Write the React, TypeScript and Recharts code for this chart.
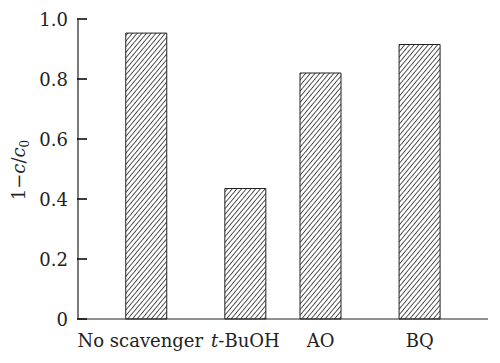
import React from 'react';
import { BarChart, Bar, XAxis, YAxis } from 'recharts';

const categories = ['No scavenger', 't-BuOH', 'AO', 'BQ'];
const positions = [1, 2.45, 3.55, 5];
const values = [0.953, 0.435, 0.82, 0.915];
const yTicks = [0, 0.2, 0.4, 0.6, 0.8, 1.0];

const data = categories.map((c, i) => ({ name: c, x: positions[i], v: values[i] }));

const FF = 'DejaVu Serif';

const YTick = (props: any) => {
  const { x, y, payload } = props;
  const v = payload.value;
  const label = v === 0 ? '0' : v.toFixed(1);
  return (
    <g>
      <rect x={x + 9} y={y - 0.8} width={10} height={1.6} fill="#111" />
      <text x={x} y={y + 7} textAnchor="end" fontFamily={FF} fontSize={18} fill="#222">
        {label}
      </text>
    </g>
  );
};

const XTick = (props: any) => {
  const { x, payload } = props;
  const idx = positions.indexOf(payload.value);
  if (idx < 0) return null;
  const name = categories[idx];
  let content: any = name;
  if (name.startsWith('t-')) {
    content = [<tspan key="a" fontStyle="italic">t</tspan>, <tspan key="b">{name.slice(1)}</tspan>];
  }
  const shift = idx === 0 ? -6 : 0;
  return (
    <text x={x + shift} y={347} textAnchor="middle" fontFamily={FF} fontSize={18} fill="#222">
      {content}
    </text>
  );
};

export default function App() {
  return (
    <div style={{ position: 'absolute', left: 0, top: 0, width: 500, height: 363, background: '#fff' }}>
      <svg width={0} height={0} style={{ position: 'absolute' }}>
        <defs>
          <pattern id="hatch" patternUnits="userSpaceOnUse" width={3.6} height={3.6} patternTransform="rotate(40)">
            <rect width={3.6} height={3.6} fill="#fff" />
            <rect x={0} y={0} width={0.9} height={3.6} fill="#444" />
          </pattern>
        </defs>
      </svg>
      <BarChart width={500} height={363} data={data} margin={{ top: 19, right: 12, bottom: 0, left: 0 }}>
        <XAxis
          xAxisId="b"
          dataKey="x"
          type="number"
          domain={[0, 6]}
          ticks={positions}
          interval={0}
          height={44}
          tickLine={false}
          axisLine={{ stroke: '#222', strokeWidth: 1.2 }}
          tick={<XTick />}
        />
        <XAxis
          xAxisId="t"
          orientation="top"
          dataKey="x"
          type="number"
          domain={[0, 6]}
          height={0}
          tick={false}
          tickLine={false}
          axisLine={{ stroke: '#222', strokeWidth: 1.2 }}
        />
        <YAxis
          yAxisId="l"
          domain={[0, 1]}
          ticks={yTicks}
          width={78}
          tickLine={false}
          tickSize={0}
          tickMargin={10}
          interval={0}
          axisLine={{ stroke: '#222', strokeWidth: 1.2 }}
          tick={<YTick />}
        />
        <YAxis
          yAxisId="r"
          orientation="right"
          domain={[0, 1]}
          width={0}
          tick={false}
          tickLine={false}
          axisLine={{ stroke: '#222', strokeWidth: 1.2 }}
        />
        <Bar
          xAxisId="b"
          yAxisId="l"
          dataKey="v"
          barSize={41}
          fill="url(#hatch)"
          stroke="#222"
          strokeWidth={1}
          isAnimationActive={false}
        />
      </BarChart>
      <svg width={40} height={363} style={{ position: 'absolute', left: 0, top: 0 }}>
        <text
          transform="translate(25,170) rotate(-90)"
          textAnchor="middle"
          fontFamily={FF}
          fontSize={18}
          fill="#222"
        >
          1−<tspan fontStyle="italic">c</tspan>/<tspan fontStyle="italic">c</tspan>
          <tspan fontSize={12} dy={4}>0</tspan>
        </text>
      </svg>
    </div>
  );
}
